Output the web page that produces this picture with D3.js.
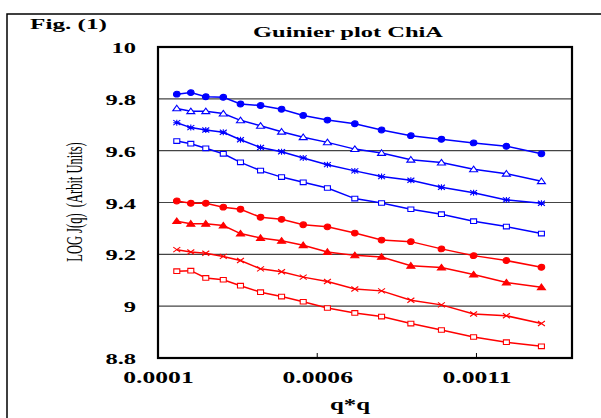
<html>
<head>
<meta charset="utf-8">
<title>Guinier plot ChiA</title>
<script src="https://cdn.jsdelivr.net/npm/d3@7"></script>
<style>
  body { margin: 0; background: #fff; }
  text { font-family: "Liberation Serif", "Times New Roman", serif; }
</style>
</head>
<body>
<script>
// q*q values (x)
var qq = [0.000159, 0.000203, 0.000250, 0.000305, 0.000359, 0.000422, 0.000488, 0.000556,
          0.000632, 0.000718, 0.000802, 0.000894, 0.000990, 0.001091, 0.001194, 0.001304];

// LOG J(q) series, top to bottom
var blueCircle   = [9.818, 9.824, 9.808, 9.806, 9.780, 9.774, 9.760, 9.736, 9.718, 9.704, 9.680, 9.658, 9.644, 9.630, 9.617, 9.588];
var blueTriangle = [9.763, 9.752, 9.752, 9.743, 9.717, 9.696, 9.673, 9.652, 9.632, 9.606, 9.591, 9.565, 9.554, 9.528, 9.511, 9.482];
var blueStar     = [9.708, 9.689, 9.680, 9.671, 9.642, 9.612, 9.596, 9.572, 9.546, 9.522, 9.500, 9.486, 9.459, 9.438, 9.410, 9.397];
var blueSquare   = [9.637, 9.627, 9.609, 9.588, 9.555, 9.523, 9.498, 9.478, 9.456, 9.415, 9.398, 9.374, 9.355, 9.328, 9.307, 9.280];
var redCircle    = [9.406, 9.397, 9.397, 9.382, 9.374, 9.343, 9.335, 9.314, 9.306, 9.282, 9.255, 9.249, 9.221, 9.195, 9.176, 9.150];
var redTriangle  = [9.328, 9.318, 9.318, 9.311, 9.280, 9.263, 9.252, 9.235, 9.209, 9.196, 9.190, 9.156, 9.149, 9.122, 9.091, 9.073];
var redCross     = [9.218, 9.209, 9.204, 9.192, 9.176, 9.144, 9.133, 9.112, 9.095, 9.066, 9.059, 9.023, 9.005, 8.970, 8.963, 8.933];
var redSquare    = [9.135, 9.137, 9.109, 9.102, 9.079, 9.054, 9.037, 9.017, 8.993, 8.974, 8.960, 8.933, 8.908, 8.881, 8.861, 8.845];

var yTicks = [8.8, 9, 9.2, 9.4, 9.6, 9.8, 10];
var yTickLabels = ["8.8", "9", "9.2", "9.4", "9.6", "9.8", "10"];
var xTicks = [0.0001, 0.0006, 0.0011];
var xTickLabels = ["0.0001", "0.0006", "0.0011"];

var W = 601, H = 418;
var pL = 158, pR = 572, pT = 47, pB = 358;

var svg = d3.select("body").append("svg").attr("width", W).attr("height", H);

// outer frame
svg.append("rect").attr("x", 7).attr("y", 14).attr("width", 640).attr("height", 440)
   .attr("fill", "none").attr("stroke", "#000").attr("stroke-width", 1.5);

var x = d3.scaleLinear().domain([0.0001, 0.0014]).range([pL, pR]);
var y = d3.scaleLinear().domain([8.8, 10]).range([pB, pT]);

// stretch text horizontally like the original
function stretch(sel, k) {
  sel.each(function() {
    var w = this.getComputedTextLength();
    d3.select(this).attr("textLength", w * k).attr("lengthAdjust", "spacingAndGlyphs");
  });
}

// gridlines
svg.append("g").selectAll("line").data(yTicks.filter(function(d) { return d > 8.8 && d < 10; }))
   .enter().append("line")
   .attr("x1", pL).attr("x2", pR)
   .attr("y1", function(d) { return y(d); }).attr("y2", function(d) { return y(d); })
   .attr("stroke", "#444").attr("stroke-width", 1.2);

// inner x ticks
svg.append("g").selectAll("line").data(xTicks.slice(1)).enter().append("line")
   .attr("x1", function(d) { return x(d); }).attr("x2", function(d) { return x(d); })
   .attr("y1", pB).attr("y2", pB - 5)
   .attr("stroke", "#000").attr("stroke-width", 1);

// axes
var yAxis = svg.append("g").attr("transform", "translate(" + pL + ",0)")
   .call(d3.axisLeft(y).tickValues(yTicks).tickSize(0).tickPadding(22)
         .tickFormat(function(d, i) { return yTickLabels[i]; }));
yAxis.select(".domain").remove();
yAxis.selectAll("text").attr("font-size", 14).attr("font-weight", "bold")
   .attr("font-family", "Liberation Serif, serif").attr("dy", "0.4em").call(stretch, 1.75);

var xAxis = svg.append("g").attr("transform", "translate(0," + pB + ")")
   .call(d3.axisBottom(x).tickValues(xTicks).tickSize(0).tickPadding(14)
         .tickFormat(function(d, i) { return xTickLabels[i]; }));
xAxis.select(".domain").remove();
xAxis.selectAll("text").attr("font-size", 16).attr("font-weight", "bold")
   .attr("font-family", "Liberation Serif, serif").call(stretch, 1.6);

// plot frame
svg.append("rect").attr("x", pL).attr("y", pT).attr("width", pR - pL).attr("height", pB - pT)
   .attr("fill", "none").attr("stroke", "#000").attr("stroke-width", 2.2);

// series
var series = [
  { v: blueCircle,   c: "#0000ff", m: "circle" },
  { v: blueTriangle, c: "#0000ff", m: "triOpen" },
  { v: blueStar,     c: "#0000ff", m: "star" },
  { v: blueSquare,   c: "#0000ff", m: "square" },
  { v: redCircle,    c: "#ff0000", m: "circle" },
  { v: redTriangle,  c: "#ff0000", m: "triFill" },
  { v: redCross,     c: "#ff0000", m: "cross" },
  { v: redSquare,    c: "#ff0000", m: "square" }
];

var shapes = {
  circle:  { d: "M-3.3,0A3.3,2.9 0 1,0 3.3,0A3.3,2.9 0 1,0 -3.3,0Z", fill: true },
  triOpen: { d: "M0,-3.2L4,2.4L-4,2.4Z", fill: false },
  triFill: { d: "M0,-3.2L4,2.4L-4,2.4Z", fill: true },
  square:  { d: "M-3,-2.3H3V2.3H-3Z", fill: false },
  star:    { d: "M-3.5,-2.5L3.5,2.5M-3.5,2.5L3.5,-2.5M0,-3V3M-3.5,0H3.5", fill: false },
  cross:   { d: "M-3.5,-2.5L3.5,2.5M-3.5,2.5L3.5,-2.5", fill: false }
};

var line = d3.line().x(function(d, i) { return x(qq[i]); }).y(function(d) { return y(d); });

series.forEach(function(s) {
  var g = svg.append("g");
  g.append("path").datum(s.v).attr("d", line)
   .attr("fill", "none").attr("stroke", s.c).attr("stroke-width", 1.5);
  var sh = shapes[s.m];
  g.selectAll(".m").data(s.v).enter().append("path")
   .attr("transform", function(d, i) { return "translate(" + x(qq[i]) + "," + y(d) + ")"; })
   .attr("d", sh.d)
   .attr("fill", sh.fill ? s.c : "#fff")
   .attr("stroke", s.c).attr("stroke-width", 1.1);
});

// texts
svg.append("text").attr("x", 30).attr("y", 29).attr("font-size", 14).attr("font-weight", "bold")
   .attr("textLength", 77).attr("lengthAdjust", "spacingAndGlyphs").text("Fig. (1)");

svg.append("text").attr("x", 348).attr("y", 37).attr("text-anchor", "middle")
   .attr("font-size", 14).attr("font-weight", "bold")
   .attr("textLength", 190).attr("lengthAdjust", "spacingAndGlyphs").text("Guinier plot ChiA");

svg.append("text").attr("x", 350).attr("y", 410).attr("text-anchor", "middle")
   .attr("font-size", 16).attr("font-weight", "bold")
   .attr("textLength", 40).attr("lengthAdjust", "spacingAndGlyphs").text("q*q");

svg.append("text").attr("transform", "translate(74,202) scale(1.8,1) rotate(-90)")
   .attr("text-anchor", "middle").attr("dy", "0.35em").attr("font-size", 12.5)
   .style("white-space", "pre").text("LOG J(q)  (Arbit Units)");
</script>
</body>
</html>
